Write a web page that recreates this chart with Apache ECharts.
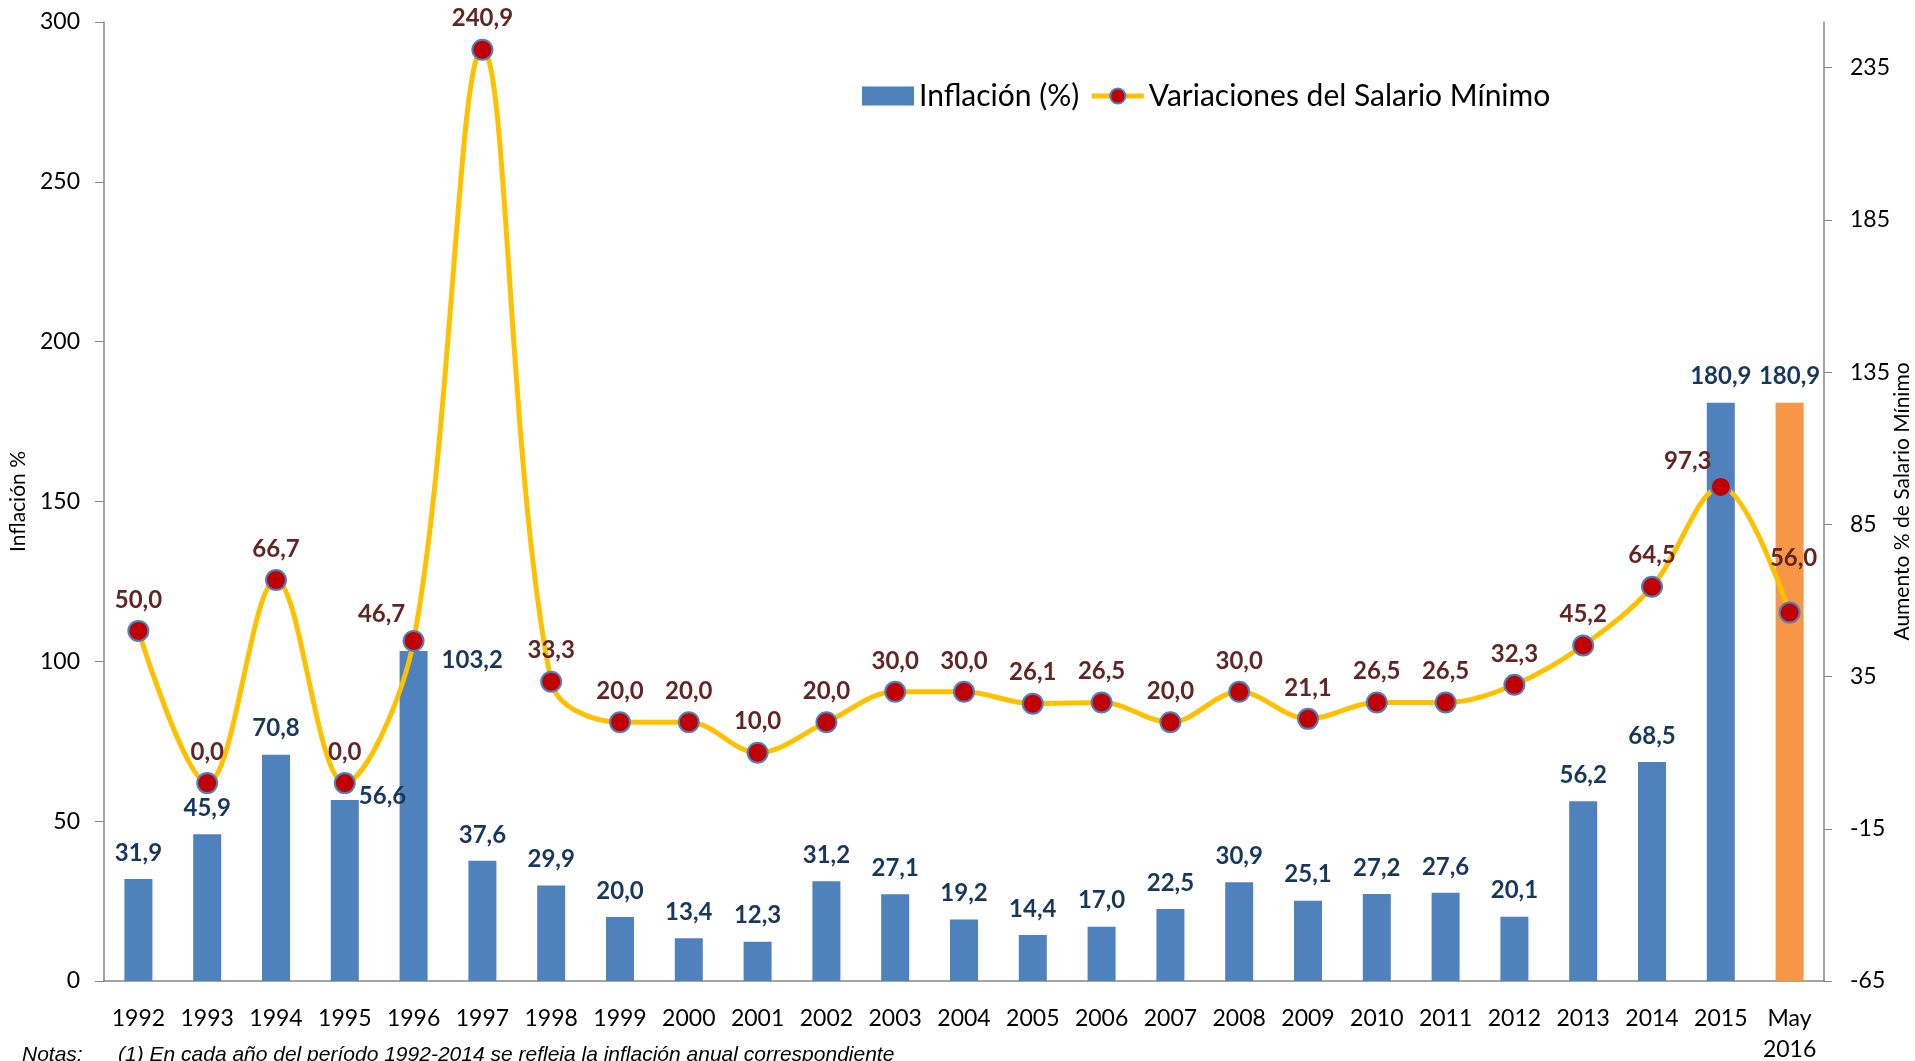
<!DOCTYPE html>
<html>
<head>
<meta charset="utf-8">
<title>Inflación y Salario Mínimo</title>
<script src="https://cdn.jsdelivr.net/npm/echarts@6/dist/echarts.min.js"></script>
<style>
    html, body { margin: 0; padding: 0; background: #fff; }
    #chart { width: 1915px; height: 1061px; }
</style>
</head>
<body>
<div id="chart"></div>
<script>
// datos
const years = ['1992', '1993', '1994', '1995', '1996', '1997', '1998', '1999', '2000', '2001',
    '2002', '2003', '2004', '2005', '2006', '2007', '2008', '2009', '2010', '2011',
    '2012', '2013', '2014', '2015', 'May\n2016'];
const inflacion = [31.9, 45.9, 70.8, 56.6, 103.2, 37.6, 29.9, 20.0, 13.4, 12.3,
    31.2, 27.1, 19.2, 14.4, 17.0, 22.5, 30.9, 25.1, 27.2, 27.6,
    20.1, 56.2, 68.5, 180.9, 180.9];
const salario = [50.0, 0.0, 66.7, 0.0, 46.7, 240.9, 33.3, 20.0, 20.0, 10.0,
    20.0, 30.0, 30.0, 26.1, 26.5, 20.0, 30.0, 21.1, 26.5, 26.5,
    32.3, 45.2, 64.5, 97.3, 56.0];
const rightTicks = [-65, -15, 35, 85, 135, 185, 235];

const FONT = 'Lato';
const axisGrey = '#868686';

// algunas etiquetas van a un lado en el original
const barLabelPos = { 3: [28, -16], 4: [42, -3] };
const lineLabelOffset = { 4: [-32, 4], 23: [-33, 5], 24: [4, -23] };

function fmt(v) {
    return v.toFixed(1).replace('.', ',');
}

const barData = inflacion.map((v, i) => {
    let d = { value: v };
    if (i === inflacion.length - 1) d.itemStyle = { color: '#F79646' };
    if (barLabelPos[i]) d.label = { position: barLabelPos[i] };
    return d;
});
const lineData = salario.map((v, i) => {
    let d = { value: v };
    if (lineLabelOffset[i]) d.label = { offset: lineLabelOffset[i] };
    return d;
});

const chart = echarts.init(document.getElementById('chart'));
const option = {
    backgroundColor: '#fff',
    animation: false,
    grid: { left: 104, right: 91, top: 22, bottom: 80, outerBoundsMode: 'none' },
    legend: {
        left: 857,
        top: 76,
        itemWidth: 52,
        itemHeight: 19,
        itemGap: 10,
        textStyle: { fontFamily: FONT, fontSize: 30, color: '#000' },
        data: [
            { name: 'Inflación (%)', icon: 'rect' },
            { name: 'Variaciones del Salario Mínimo', lineStyle: { width: 5 } }
        ]
    },
    xAxis: {
        type: 'category',
        data: years,
        axisLine: { lineStyle: { color: axisGrey, width: 1.5 } },
        axisTick: { length: 9, lineStyle: { color: axisGrey } },
        axisLabel: { fontFamily: FONT, fontSize: 23, color: '#000', margin: 22, lineHeight: 31, interval: 0 },
        splitLine: { show: false }
    },
    yAxis: [
        {
            type: 'value',
            min: 0,
            max: 300,
            interval: 50,
            name: 'Inflación %',
            nameLocation: 'middle',
            nameGap: 72,
            nameTextStyle: { fontFamily: FONT, fontSize: 21, color: '#000' },
            axisLine: { show: true, lineStyle: { color: axisGrey, width: 1.5 } },
            axisTick: { show: true, length: 9, lineStyle: { color: axisGrey } },
            axisLabel: { fontFamily: FONT, fontSize: 23, color: '#000', margin: 24 },
            splitLine: { show: false }
        },
        {
            type: 'value',
            min: -65,
            max: 250,
            name: 'Aumento % de Salario Mínimo',
            nameLocation: 'middle',
            nameGap: 68,
            nameMoveOverlap: false,
            nameTextStyle: { fontFamily: FONT, fontSize: 21, color: '#000' },
            axisLine: { show: true, lineStyle: { color: axisGrey, width: 1.5 } },
            axisTick: { show: true, length: 8, lineStyle: { color: axisGrey }, customValues: rightTicks },
            axisLabel: { fontFamily: FONT, fontSize: 23, color: '#000', margin: 26, customValues: rightTicks },
            splitLine: { show: false }
        }
    ],
    series: [
        {
            name: 'Inflación (%)',
            type: 'bar',
            barWidth: 28,
            itemStyle: { color: '#4F81BD' },
            label: {
                show: true,
                position: 'top',
                distance: 14,
                fontFamily: FONT,
                fontSize: 24,
                fontWeight: 'bold',
                color: '#17375E',
                formatter: p => fmt(p.value)
            },
            data: barData
        },
        {
            name: 'Variaciones del Salario Mínimo',
            type: 'line',
            yAxisIndex: 1,
            smooth: 0.35,
            symbol: 'circle',
            symbolSize: 20,
            z: 5,
            lineStyle: { color: '#FFC000', width: 5 },
            itemStyle: { color: '#C00000', borderColor: '#4F81BD', borderWidth: 2 },
            label: {
                show: true,
                position: 'top',
                distance: 8,
                fontFamily: FONT,
                fontSize: 24,
                fontWeight: 'bold',
                color: '#632523',
                formatter: p => fmt(p.value)
            },
            data: lineData
        }
    ],
    graphic: [
        {
            type: 'text', left: 22, top: 1045,
            style: { text: 'Notas:', font: 'italic 21px "Liberation Sans"', fill: '#000' }
        },
        {
            type: 'text', left: 118, top: 1045,
            style: { text: '(1) En cada año del período 1992-2014 se refleja la inflación anual correspondiente', font: 'italic 21px "Liberation Sans"', fill: '#000' }
        }
    ]
};
chart.setOption(option);
</script>
</body>
</html>
